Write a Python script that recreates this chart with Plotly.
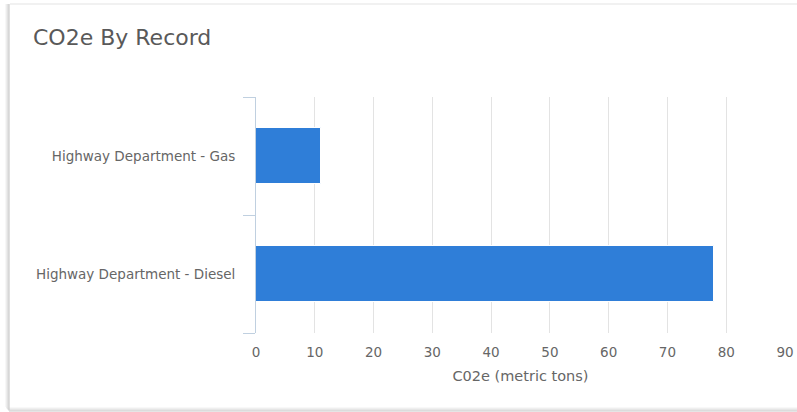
import plotly.graph_objects as go

# Data
categories = ["Highway Department - Diesel", "Highway Department - Gas"]
co2e_values = [78, 11]
x_ticks = [0, 10, 20, 30, 40, 50, 60, 70, 80, 90]

W, H = 797, 412
L, R, T, B = 256, 12, 97, 79
PW, PH = W - L - R, H - T - B


def px(x):
    return (x - L) / PW


def py(y):
    return (H - B - y) / PH


fig = go.Figure(
    go.Bar(
        x=co2e_values,
        y=categories,
        orientation="h",
        marker=dict(color="#2f7ed8", line=dict(color="#ffffff", width=1)),
        width=0.48,
        hoverinfo="x+y",
    )
)

# Card frame with a soft shadow on the left and bottom edges
shapes = []
shadow = ["#f2f2f2", "#e6e6e6", "#d9d9d9", "#cccccc"]
for i, c in enumerate(shadow):
    xx = 6 + i
    shapes.append(dict(type="line", xref="paper", yref="paper",
                       x0=px(xx), x1=px(xx), y0=py(4), y1=py(410 - (3 - i)),
                       line=dict(color=c, width=1.2), layer="below"))
    yy = 411 - (3 - i)
    shapes.append(dict(type="line", xref="paper", yref="paper",
                       x0=px(6 + i), x1=px(W + 5), y0=py(yy), y1=py(yy),
                       line=dict(color=c, width=1.2), layer="below"))
shapes.append(dict(type="line", xref="paper", yref="paper",
                   x0=px(10), x1=px(W + 5), y0=py(4), y1=py(4),
                   line=dict(color="#ececec", width=1.5), layer="below"))

fig.update_layout(
    width=W,
    height=H,
    margin=dict(l=L, r=R, t=T, b=B, autoexpand=False),
    paper_bgcolor="#ffffff",
    plot_bgcolor="#ffffff",
    font=dict(family="DejaVu Sans, sans-serif", color="#666666", size=13.5),
    showlegend=False,
    bargap=0,
    shapes=shapes,
    annotations=[
        dict(text="CO2e By Record", xref="paper", yref="paper",
             x=px(31), y=py(37.5), xanchor="left", yanchor="middle",
             showarrow=False, font=dict(size=22, color="#595959")),
    ],
    xaxis=dict(
        range=[0, 90],
        tickvals=x_ticks,
        showgrid=True,
        gridcolor="#e3e3e3",
        gridwidth=1,
        zeroline=False,
        showline=False,
        ticks="",
        automargin=False,
        ticklabelstandoff=9,
        tickfont=dict(size=13.5, color="#666666"),
        title=dict(text="C02e (metric tons)", standoff=12,
                   font=dict(size=14.5, color="#666666")),
        fixedrange=True,
    ),
    yaxis=dict(
        categoryorder="array",
        categoryarray=categories,
        showgrid=False,
        zeroline=False,
        showline=True,
        linecolor="#c0d0e0",
        linewidth=1,
        ticks="outside",
        tickson="boundaries",
        ticklen=12,
        tickcolor="#c0d0e0",
        automargin=False,
        ticklabelstandoff=17,
        tickfont=dict(size=13.5, color="#666666"),
        fixedrange=True,
    ),
)

fig.write_html("out.html")
